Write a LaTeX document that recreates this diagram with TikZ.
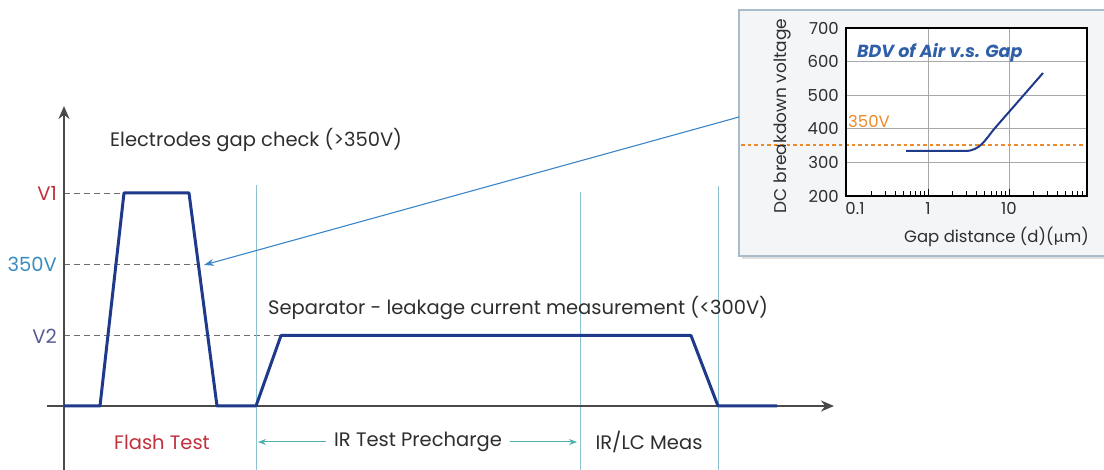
\documentclass[tikz,border=0pt]{standalone}
\usepackage{fontspec}
\setmainfont{Poppins}
\newfontfamily\mufont{Lato}
\usetikzlibrary{arrows.meta}
\definecolor{wave}{HTML}{1F3A8A}
\definecolor{axisc}{HTML}{4A4A4A}
\definecolor{txt}{HTML}{2E2E2E}
\definecolor{vone}{HTML}{C0303C}
\definecolor{vthree}{HTML}{3A8CC0}
\definecolor{vtwo}{HTML}{5A5A96}
\definecolor{vline}{HTML}{8CC2CE}
\definecolor{tealar}{HTML}{4FB0B0}
\definecolor{callout}{HTML}{3A86C8}
\definecolor{boxfill}{HTML}{F3F5F7}
\definecolor{boxline}{HTML}{A8BCCB}
\definecolor{gridc}{HTML}{A8A8A8}
\definecolor{orangec}{HTML}{EE8A2A}
\definecolor{bdvc}{HTML}{2F5FA8}
\tikzset{
  x=1pt, y=-1pt,
  lbl/.style={inner sep=0pt, font=\fontsize{19.5}{22}\selectfont, text=txt},
  small/.style={inner sep=0pt, font=\fontsize{16.5}{19}\selectfont, text=txt},
  guide/.style={draw=axisc!80, line width=0.9pt, dash pattern=on 6pt off 4pt},
  vsep/.style={draw=vline, line width=1pt},
  waveline/.style={draw=wave, line width=3pt, line join=round},
  axisline/.style={draw=axisc, line width=2pt},
  span/.style={draw=tealar, line width=1pt, -{Stealth[length=8pt,width=6pt]}},
}
\begin{document}
\begin{tikzpicture}
\useasboundingbox (0,0) rectangle (1104,470);
\fill[white] (0,0) rectangle (1104,470);

% ---------- inset box ----------
\fill[black!12] (742,13) rectangle (1104,259);
\fill[boxfill] (739,10) rectangle (1104,256);
\draw[boxline, line width=1.2pt] (1104,10) -- (739,10) -- (739,256) -- (1104,256);

% plot area
\fill[white] (846,28) rectangle (1087,196);
\foreach \yy in {61.6,95.2,128.8,162.4}
  \draw[gridc, line width=0.7pt] (846,\yy) -- (1087,\yy);
\foreach \xx in {928,1009}
  \draw[gridc, line width=0.7pt] (\xx,28) -- (\xx,196);
% minor ticks
\foreach \dec in {847,928,1009}{
  \foreach \m in {2,...,9}{
    \pgfmathsetmacro{\tx}{\dec+81*log10(\m)}
    \ifdim \tx pt<1087pt
      \draw[black, line width=0.9pt] (\tx,196) -- (\tx,191.5);
    \fi
  }
}
\foreach \xx in {928,1009}
  \draw[black, line width=0.9pt] (\xx,196) -- (\xx,189);
% 350V line
\draw[orangec, line width=2pt, dash pattern=on 3.5pt off 3pt] (741,145.5) -- (1087,145.5);
% curve
\draw[wave, line width=2pt] (906,151) -- (965,151) .. controls (980,151) and (985,140) .. (995,128) -- (1043,73);
\draw[black, line width=1.8pt] (846,28) rectangle (1087,196);

% tick labels
\foreach \v/\yy in {700/28,600/61.6,500/95.2,400/128.8,300/162.4,200/196}
  \node[small, anchor=east] (yt\v) at (839,\yy) {\v};
\node[small, anchor=north] (xt01) at (855,202) {0.1};
\node[small, anchor=north] (xt1) at (928,202) {1};
\node[small, anchor=north] (xt10) at (1009,202) {10};
\node[small, anchor=east] (xlab) at (1089,237) {Gap distance (d)({\mufont µ}m)};
\node[small, rotate=90, font=\fontsize{17}{19}\selectfont] (ylab) at (782,116) {DC breakdown voltage};
\node[small, anchor=west, text=bdvc, font=\fontsize{17.5}{19}\selectfont\bfseries\itshape] (bdv) at (857,53) {BDV of Air v.s. Gap};
\node[small, anchor=west, text=orangec] (ins350) at (848,121) {350V};

\coordinate (calloutstart) at (739,117);

% ---------- main chart ----------
% guides
\coordinate (g1a) at (64,193);  \coordinate (g1b) at (124,193);
\coordinate (g3a) at (64,264.5);\coordinate (g3b) at (204,264.5);
\coordinate (g2a) at (64,335.5);\coordinate (g2b) at (281,335.5);
\draw[guide] (g1a) -- (g1b);
\draw[guide] (g3a) -- (g3b);
\draw[guide] (g2a) -- (g2b);

% vertical separators
\coordinate (s1t) at (256,185); \coordinate (s1b) at (256,470);
\coordinate (s2t) at (580,192); \coordinate (s2b) at (580,470);
\coordinate (s3t) at (718,186); \coordinate (s3b) at (718,470);
\draw[vsep] (s1t) -- (s1b);
\draw[vsep] (s2t) -- (s2b);
\draw[vsep] (s3t) -- (s3b);

% axes
\coordinate (yb) at (64,470); \coordinate (yt) at (64,106);
\coordinate (xl) at (47,406); \coordinate (xr) at (834,406);
\draw[axisline, -{Stealth[length=13pt,width=11pt]}] (yb) -- (yt);
\draw[axisline, -{Stealth[length=13pt,width=11pt]}] (xl) -- (xr);

% waveform
\draw[waveline] (64,406) -- (100,406) -- (124,193) -- (189,193) -- (217,406) -- (256,406)
  -- (281,335.5) -- (691,335.5) -- (718,406) -- (777,406);

% labels
\node[lbl, anchor=east, text=vone] (lv1) at (57,193) {V1};
\node[lbl, anchor=east, text=vthree] (lv3) at (57,264.5) {350V};
\node[lbl, anchor=east, text=vtwo] (lv2) at (57,336) {V2};
\node[lbl, anchor=west] (egc) at (110,140) {Electrodes gap check (>350V)};
\node[lbl, anchor=west] (sep) at (268,308) {Separator - leakage current measurement (<300V)};
\node[lbl, text=vone] (flash) at (162,442) {Flash Test};
\node[lbl] (irtp) at (418,442) {IR Test Precharge};
\node[lbl] (irlc) at (649,442) {IR/LC Meas};

% span arrows
\coordinate (spl) at (258,442);
\coordinate (spr) at (577,442);
\draw[span] (irtp.west) ++(-8,0) -- (spl);
\draw[span] (irtp.east) ++(8,0) -- (spr);

% callout
\coordinate (callouttip) at (204,265);
\draw[callout, line width=1.1pt, -{Stealth[length=10pt,width=7pt]}] (calloutstart) -- (callouttip);
\end{tikzpicture}
\end{document}
